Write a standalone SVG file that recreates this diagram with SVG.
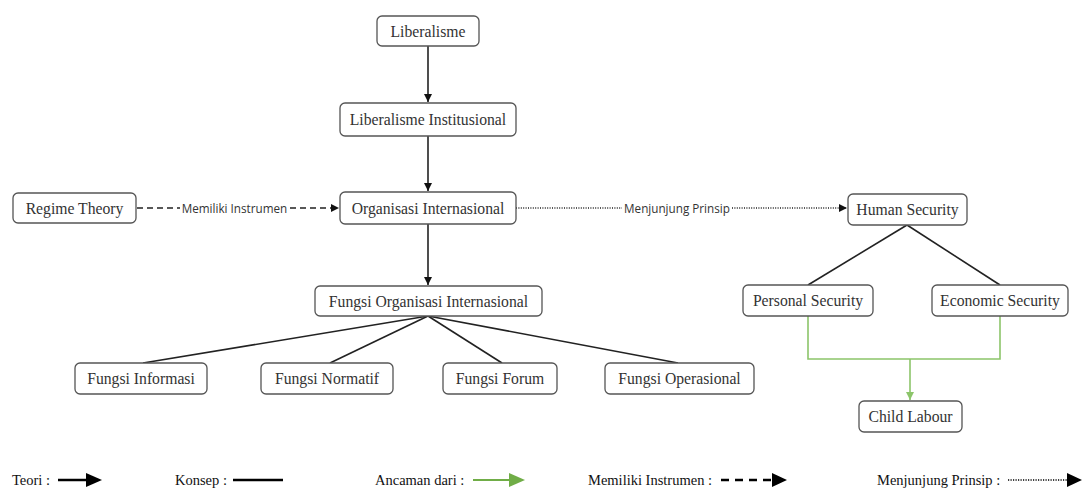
<svg xmlns="http://www.w3.org/2000/svg" width="1084" height="488" viewBox="0 0 1084 488">
<style>
.box{fill:#fff;stroke:#555;stroke-width:1.3}
.t{font-family:"Liberation Serif","Times New Roman",serif;font-size:15.7px;fill:#333;text-anchor:middle;dominant-baseline:central}
.e{stroke:#222;stroke-width:1.6;fill:none}
.g{stroke:#8cc56a;stroke-width:1.6;fill:none}
.lbl{font-family:"Open Sans","Noto Sans",sans-serif;font-size:11.7px;fill:#333;text-anchor:middle;dominant-baseline:central}
.lg{font-family:"Liberation Serif","Times New Roman",serif;font-size:14.5px;fill:#111}
</style>
<defs>
<marker id="ah" viewBox="0 0 10 10" refX="10" refY="5" markerWidth="8" markerHeight="8" markerUnits="userSpaceOnUse" orient="auto"><path d="M0,0L10,5L0,10z" fill="#111"/></marker>
<marker id="ahg" viewBox="0 0 10 10" refX="10" refY="5" markerWidth="8" markerHeight="8" markerUnits="userSpaceOnUse" orient="auto"><path d="M0,0L10,5L0,10z" fill="#8cc56a"/></marker>
</defs>
<rect width="1084" height="488" fill="#fff"/>
<g id="connectors">
<line class="e" x1="428" y1="46" x2="428" y2="102" marker-end="url(#ah)"/>
<line class="e" x1="428" y1="136" x2="428" y2="191" marker-end="url(#ah)"/>
<line class="e" x1="428" y1="224" x2="428" y2="285" marker-end="url(#ah)"/>
<line class="e" x1="137" y1="208" x2="180" y2="208" stroke-dasharray="6,4"/>
<line class="e" x1="290" y1="208" x2="339" y2="208" stroke-dasharray="6,4" marker-end="url(#ah)"/>
<text class="lbl" x="234.5" y="208">Memiliki Instrumen</text>
<line class="e" x1="516" y1="208" x2="622" y2="208" stroke-width="1.1" stroke-dasharray="1,1.4"/>
<line class="e" x1="732" y1="208" x2="847" y2="208" stroke-width="1.1" stroke-dasharray="1,1.4" marker-end="url(#ah)"/>
<text class="lbl" x="677" y="208">Menjunjung Prinsip</text>
<line class="e" x1="428" y1="316" x2="143" y2="363"/>
<line class="e" x1="428" y1="316" x2="330" y2="363"/>
<line class="e" x1="428" y1="316" x2="502" y2="363"/>
<line class="e" x1="428" y1="316" x2="678" y2="363"/>
<line class="e" x1="907" y1="225" x2="808" y2="285"/>
<line class="e" x1="907" y1="225" x2="1000" y2="285"/>
<path class="g" d="M808,316V359H1000V316"/>
<line class="g" x1="910" y1="359" x2="910" y2="400" marker-end="url(#ahg)"/>
</g>
<g id="n-liberalisme"><rect class="box" x="377" y="16" width="102" height="30" rx="5"/><text class="t" x="428" y="31">Liberalisme</text></g>
<g id="n-libinst"><rect class="box" x="340" y="103" width="176" height="33" rx="5"/><text class="t" x="428" y="119.5">Liberalisme Institusional</text></g>
<g id="n-org"><rect class="box" x="340" y="192" width="176" height="32" rx="5"/><text class="t" x="428" y="208">Organisasi Internasional</text></g>
<g id="n-regime"><rect class="box" x="13" y="193" width="123" height="30" rx="5"/><text class="t" x="74.5" y="208">Regime Theory</text></g>
<g id="n-human"><rect class="box" x="848" y="194" width="119" height="31" rx="5"/><text class="t" x="907.5" y="209.5">Human Security</text></g>
<g id="n-fungsiorg"><rect class="box" x="315" y="286" width="227" height="30" rx="5"/><text class="t" x="428.5" y="301">Fungsi Organisasi Internasional</text></g>
<g id="n-informasi"><rect class="box" x="75" y="363" width="132" height="31" rx="5"/><text class="t" x="141" y="378.5">Fungsi Informasi</text></g>
<g id="n-normatif"><rect class="box" x="261" y="363" width="132" height="31" rx="5"/><text class="t" x="327" y="378.5">Fungsi Normatif</text></g>
<g id="n-forum"><rect class="box" x="443" y="363" width="114" height="31" rx="5"/><text class="t" x="500" y="378.5">Fungsi Forum</text></g>
<g id="n-operasional"><rect class="box" x="605" y="363" width="149" height="31" rx="5"/><text class="t" x="679.5" y="378.5">Fungsi Operasional</text></g>
<g id="n-personal"><rect class="box" x="743" y="285" width="130" height="31" rx="5"/><text class="t" x="808" y="300.5">Personal Security</text></g>
<g id="n-economic"><rect class="box" x="932" y="285" width="136" height="31" rx="5"/><text class="t" x="1000" y="300.5">Economic Security</text></g>
<g id="n-child"><rect class="box" x="859" y="401" width="103" height="31" rx="5"/><text class="t" x="910.5" y="416.5">Child Labour</text></g>
<g id="legend">
<text class="lg" x="12" y="485">Teori :</text>
<line x1="58" y1="480" x2="88" y2="480" stroke="#000" stroke-width="2.5"/>
<path d="M86,473L102,480L86,487z" fill="#000"/>
<text class="lg" x="175" y="485">Konsep :</text>
<line x1="233" y1="480" x2="283" y2="480" stroke="#000" stroke-width="2.5"/>
<text class="lg" x="375" y="485">Ancaman dari :</text>
<line x1="473" y1="480" x2="511" y2="480" stroke="#70ad47" stroke-width="2"/>
<path d="M509,473L525,480L509,487z" fill="#70ad47"/>
<text class="lg" x="588" y="485">Memiliki Instrumen :</text>
<line x1="721" y1="480" x2="773" y2="480" stroke="#000" stroke-width="2.5" stroke-dasharray="8,6"/>
<path d="M772,473L787,480L772,487z" fill="#000"/>
<text class="lg" x="877" y="485">Menjunjung Prinsip :</text>
<line x1="1008" y1="480" x2="1068" y2="480" stroke="#000" stroke-width="1.6" stroke-dasharray="1.2,1.3"/>
<path d="M1067,473L1082,480L1067,487z" fill="#000"/>
</g>
</svg>
